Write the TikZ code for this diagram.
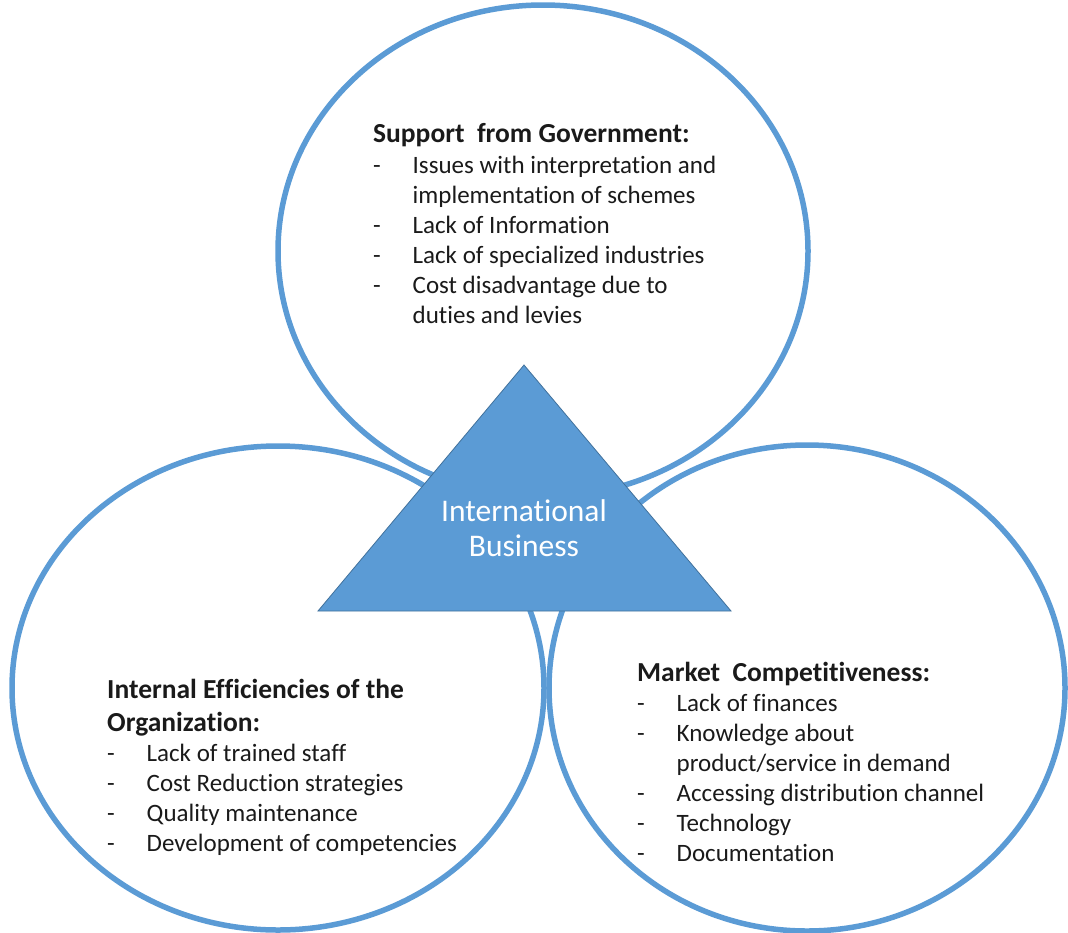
\documentclass[tikz,border=0pt]{standalone}
\usepackage{fontspec}
\setmainfont{Carlito}[Ligatures=CommonOff]
\usetikzlibrary{shapes.geometric}
\definecolor{ringblue}{HTML}{5B9BD5}
\definecolor{triedge}{HTML}{41719C}
\definecolor{txt}{HTML}{1A1A1A}
\newcommand{\dashitem}[1]{\makebox[39.5pt][l]{-}#1}
\newcommand{\contitem}[1]{\hspace*{39.5pt}#1}
\newcommand{\headtxt}[1]{{\fontsize{27.5}{30}\selectfont\bfseries #1}}
\tikzset{
  ring/.style={ellipse, draw=ringblue, line width=5.5pt, inner sep=0pt},
  tri/.style={fill=ringblue, draw=triedge, line width=0.8pt, line join=miter},
  block/.style={anchor=base west, align=left, inner sep=0pt, text=txt,
    font=\fontsize{25}{30}\selectfont},
  centre/.style={anchor=base, align=center, text=white, inner sep=0pt,
    font=\fontsize{31.5}{35}\selectfont}
}
\begin{document}
\begin{tikzpicture}[x=1pt,y=-1pt]
\useasboundingbox (0,0) rectangle (1068,932);
\node[ring, minimum width=530pt, minimum height=492pt] (gov) at (543,251) {};
\node[ring, minimum width=532pt, minimum height=484pt] (ief) at (278,688) {};
\node[ring, minimum width=516pt, minimum height=486pt] (mkt) at (807,688) {};
\coordinate (apex) at (524,365);
\coordinate (bl) at (318,611);
\coordinate (br) at (731,611);
\draw[tri] (apex) -- (bl) -- (br) -- cycle;
\node[centre] (ib) at (524,556) {International\\Business};
\node[block] (govtxt) at (373,323) {\headtxt{Support\ \ from Government:}\\[1pt]
\dashitem{Issues with interpretation and}\\
\contitem{implementation of schemes}\\
\dashitem{Lack of Information}\\
\dashitem{Lack of specialized industries}\\
\dashitem{Cost disadvantage due to}\\
\contitem{duties and levies}};
\node[block] (ieftxt) at (107,851) {\headtxt{Internal Efficiencies of the}\\[3pt]
\headtxt{Organization:}\\
\dashitem{Lack of trained staff}\\
\dashitem{Cost Reduction strategies}\\
\dashitem{Quality maintenance}\\
\dashitem{Development of competencies}};
\node[block] (mkttxt) at (637,861) {\headtxt{Market\ \ Competitiveness:}\\
\dashitem{Lack of finances}\\
\dashitem{Knowledge about}\\
\contitem{product/service in demand}\\
\dashitem{Accessing distribution channel}\\
\dashitem{Technology}\\
\dashitem{Documentation}};
\end{tikzpicture}
\end{document}
